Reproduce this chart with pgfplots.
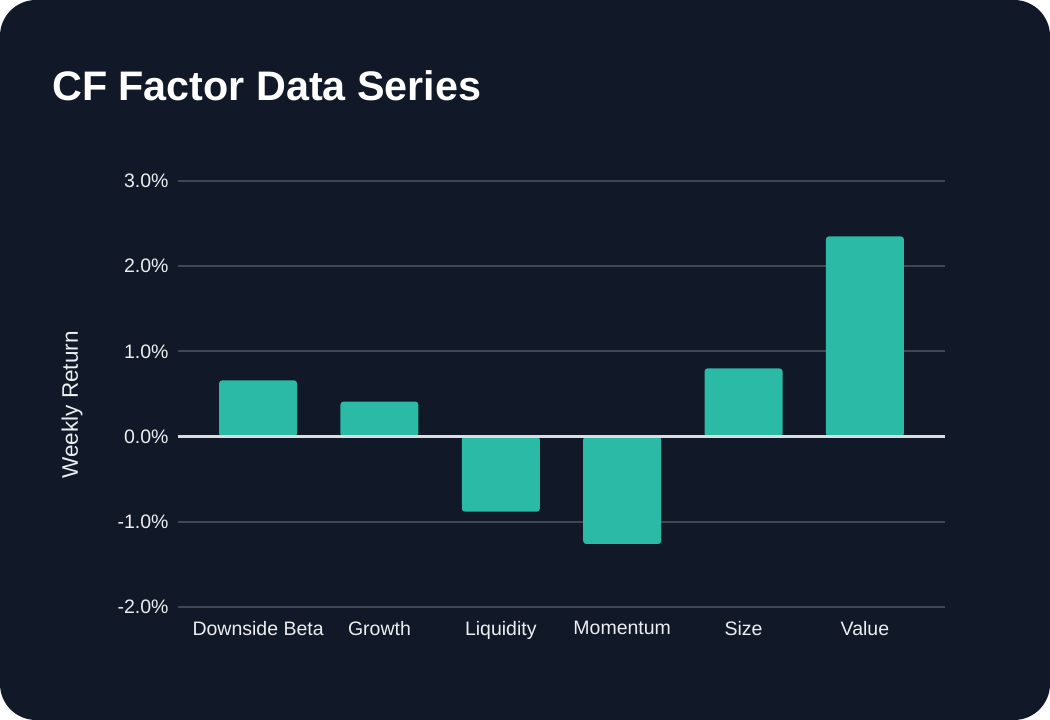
\documentclass[border=0pt]{standalone}
\usepackage{pgfplots}
\pgfplotsset{compat=1.18}
\usepackage{fontspec}
\setmainfont{Liberation Sans}
\definecolor{bg}{HTML}{111827}
\definecolor{barc}{HTML}{2ABAA6}
\definecolor{gridc}{HTML}{414752}
\definecolor{zeroc}{HTML}{D9DCE0}
\definecolor{txt}{HTML}{ECEEF1}

\begin{document}
\begin{tikzpicture}[x=1pt,y=1pt]
  % card background
  \fill[white] (0,0) rectangle (1050,720);
  \fill[bg, rounded corners=36pt] (0,0) rectangle (1050,720);
  \node[anchor=base west, text=white, inner sep=0pt,
        font=\fontsize{41.3}{48}\selectfont\bfseries] at (52,619) {CF Factor Data Series};
  \node[rotate=90, text=txt, font=\fontsize{22.5}{26}\selectfont] at (72,315) {Weekly Return};

  \begin{axis}[
      at={(178pt,113pt)}, anchor=south west,
      scale only axis, width=767pt, height=426pt,
      xmin=-0.66, xmax=5.66, ymin=-2, ymax=3,
      axis line style={draw=none},
      major tick length=0pt,
      ymajorgrids,
      grid style={gridc, line width=2pt},
      xtick={0,...,5},
      xticklabels={Downside Beta,Growth,Liquidity,Momentum,Size,Value},
      ytick={-2,-1,0,1,2,3},
      yticklabels={-2.0\%,-1.0\%,0.0\%,1.0\%,2.0\%,3.0\%},
      ticklabel style={text=txt, font=\fontsize{19.5}{23}\selectfont},
      yticklabel style={xshift=-6pt},
      xticklabel style={yshift=-11pt},
      ybar, bar width=78pt,
    ]
    \addplot[fill=barc, draw=none, rounded corners=3pt]
      coordinates {(0,0.66) (1,0.41) (2,-0.88) (3,-1.26) (4,0.80) (5,2.35)};
    \draw[zeroc, line width=2.5pt] (axis cs:-0.66,0) -- (axis cs:5.66,0);
  \end{axis}
\end{tikzpicture}
\end{document}
